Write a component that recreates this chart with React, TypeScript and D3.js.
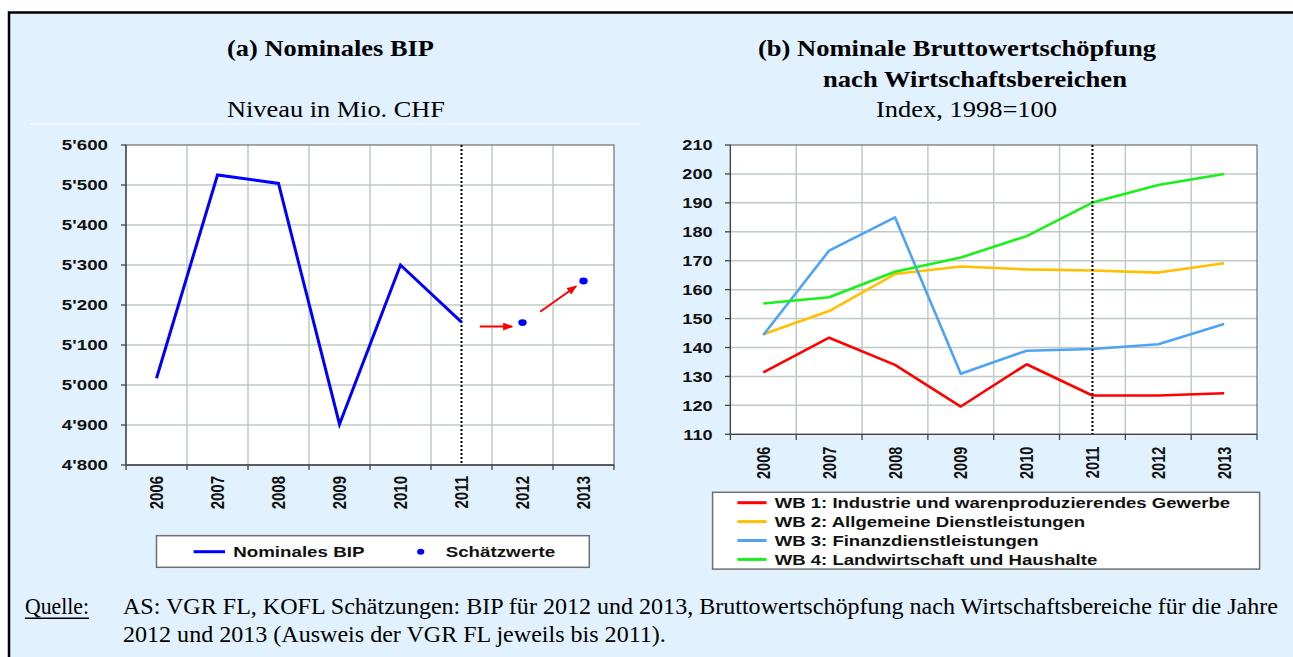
import React, { useMemo } from 'react';
import * as d3 from 'd3';

// ---------- data ----------
const years = ['2006', '2007', '2008', '2009', '2010', '2011', '2012', '2013'];
const bipYears = ['2006', '2007', '2008', '2009', '2010', '2011'];
const bipValues = [5017, 5525, 5504, 4902, 5300, 5157];
const estYears = ['2012', '2013'];
const estValues = [5156, 5260];
const bipTicks = [4800, 4900, 5000, 5100, 5200, 5300, 5400, 5500, 5600];
const bipTickLabels = ["4'800", "4'900", "5'000", "5'100", "5'200", "5'300", "5'400", "5'500", "5'600"];
const splitYear = '2011';

// annotation arrows (year, offset in band widths, value)
const arrowFromYear = ['2011', '2012'];
const arrowFromOffset = [0.3, 0.29];
const arrowFromValue = [5146, 5183];
const arrowToYear = ['2012', '2013'];
const arrowToOffset = [-0.17, -0.12];
const arrowToValue = [5146, 5247];

const wbNames = [
  'WB 1: Industrie und warenproduzierendes Gewerbe',
  'WB 2: Allgemeine Dienstleistungen',
  'WB 3: Finanzdienstleistungen',
  'WB 4: Landwirtschaft und Haushalte',
];
const wbColors = ['#FF0000', '#FFC000', '#4DA3F5', '#19F019'];
const wb1 = [131.4, 143.4, 134.0, 119.6, 134.2, 123.4, 123.4, 124.2];
const wb2 = [144.6, 152.6, 165.4, 168.0, 167.0, 166.6, 165.9, 169.1];
const wb3 = [144.3, 173.5, 185.0, 130.9, 138.9, 139.5, 141.1, 148.1];
const wb4 = [155.2, 157.4, 166.2, 171.1, 178.5, 190.1, 196.2, 200.0];
const wbSeries = [wb1, wb2, wb3, wb4];
const indexTicks = [110, 120, 130, 140, 150, 160, 170, 180, 190, 200, 210];

const titleA = '(a) Nominales BIP';
const subA = 'Niveau in Mio. CHF';
const titleB1 = '(b) Nominale Bruttowertschöpfung';
const titleB2 = 'nach Wirtschaftsbereichen';
const subB = 'Index, 1998=100';
const legendA = ['Nominales BIP', 'Schätzwerte'];
const sourceLabel = 'Quelle:';
const source1 = 'AS: VGR FL, KOFL Schätzungen: BIP für 2012 und 2013, Bruttowertschöpfung nach Wirtschaftsbereiche für die Jahre';
const source2 = '2012 und 2013 (Ausweis der VGR FL jeweils bis 2011).';

// ---------- styles ----------
const SANS = "'Liberation Sans', Arial, sans-serif";
const SERIF = "'Liberation Serif', 'Times New Roman', serif";
const BG = '#E1F1FD';
const GRID = '#BFCAC4';
const FRAME = '#707070';

function measure(text: string, font: string): number {
  const c = document.createElement('canvas');
  const ctx = c.getContext('2d');
  if (!ctx) return text.length * 10;
  ctx.font = font;
  return ctx.measureText(text).width;
}

export default function App() {
  // left chart scales
  const xL = d3.scaleBand<string>().domain(years).range([126, 614]).padding(0);
  const yL = d3.scaleLinear().domain([4800, 5600]).range([465, 145]);
  const bwL = xL.bandwidth();
  const cL = (y: string) => (xL(y) as number) + bwL / 2;

  // right chart scales
  const xR = d3.scaleBand<string>().domain(years).range([730.4, 1257]).padding(0);
  const yR = d3.scaleLinear().domain([110, 210]).range([434.3, 145]);
  const bwR = xR.bandwidth();
  const cR = (y: string) => (xR(y) as number) + bwR / 2;

  const bipLine = d3
    .line<number>()
    .x((_, i) => cL(bipYears[i]))
    .y((d) => yL(d))(bipValues) as string;

  const wbLine = (vals: number[]) =>
    d3
      .line<number>()
      .x((_, i) => cR(years[i]))
      .y((d) => yR(d))(vals) as string;

  const srcFont = `23px ${SERIF}`;
  const src2Len = useMemo(() => {
    const m1 = measure(source1, srcFont);
    const m2 = measure(source2, srcFont);
    return (m2 * 1155) / m1;
  }, []);

  const sxL = 1.25;
  const sxR = 1.25;

  return (
    <div style={{ position: 'absolute', left: 0, top: 0 }}>
      <svg width={1293} height={657} style={{ display: 'block' }}>
        <defs>
          <marker id="redArrow" markerUnits="userSpaceOnUse" markerWidth={10} markerHeight={8} refX={9} refY={4} orient="auto">
            <path d="M0,0 L10,4 L0,8 Z" fill="#FF0000" />
          </marker>
        </defs>
        <rect x={0} y={0} width={1293} height={657} fill="#FFFFFF" />
        <rect x={9} y={12.5} width={1300} height={660} fill={BG} stroke="#000" strokeWidth={2.5} />
        <line x1={30} x2={640} y1={124} y2={124} stroke="#FFFFFF" strokeOpacity={0.7} strokeWidth={1.5} />

        {/* titles */}
        <text x={227} y={56} fontFamily={SERIF} fontWeight="bold" fontSize={23} textLength={207} lengthAdjust="spacingAndGlyphs">{titleA}</text>
        <text x={227} y={117} fontFamily={SERIF} fontSize={23} textLength={218} lengthAdjust="spacingAndGlyphs">{subA}</text>
        <text x={758} y={56} fontFamily={SERIF} fontWeight="bold" fontSize={23} textLength={398} lengthAdjust="spacingAndGlyphs">{titleB1}</text>
        <text x={823} y={86.5} fontFamily={SERIF} fontWeight="bold" fontSize={23} textLength={304} lengthAdjust="spacingAndGlyphs">{titleB2}</text>
        <text x={876} y={116.7} fontFamily={SERIF} fontSize={23} textLength={181} lengthAdjust="spacingAndGlyphs">{subB}</text>

        {/* ---------- left chart ---------- */}
        <rect x={126} y={145} width={488} height={320} fill="#FFFFFF" />
        {bipTicks.slice(1, -1).map((t) => (
          <line key={'hg' + t} x1={126} x2={614} y1={yL(t)} y2={yL(t)} stroke={GRID} strokeWidth={1.5} />
        ))}
        {years.slice(1).map((y) => (
          <line key={'vg' + y} x1={xL(y)} x2={xL(y)} y1={145} y2={465} stroke={GRID} strokeWidth={1.5} />
        ))}
        <rect x={126} y={145} width={488} height={320} fill="none" stroke={FRAME} strokeWidth={1.2} />
        <line x1={126} x2={126} y1={145} y2={465} stroke="#444" strokeWidth={1.3} />
        <line x1={126} x2={614} y1={465} y2={465} stroke="#444" strokeWidth={1.3} />
        {bipTicks.map((t, i) => (
          <g key={'yt' + t}>
            <line x1={121} x2={126} y1={yL(t)} y2={yL(t)} stroke="#444" strokeWidth={1.3} />
            <text
              transform={`translate(108,${yL(t)}) scale(${sxL},1)`}
              textAnchor="end"
              dy="0.36em"
              fontFamily={SANS}
              fontWeight="bold"
              fontSize={15}
              fill="#111"
            >
              {bipTickLabels[i]}
            </text>
          </g>
        ))}
        {years.map((y) => (
          <line key={'xt' + y} x1={xL(y)} x2={xL(y)} y1={465} y2={470} stroke="#444" strokeWidth={1.3} />
        ))}
        <line x1={614} x2={614} y1={465} y2={470} stroke="#444" strokeWidth={1.3} />
        {years.map((y) => (
          <text
            key={'xl' + y}
            transform={`translate(${cL(y)},476) scale(${sxL},1) rotate(-90)`}
            textAnchor="end"
            dy="0.36em"
            fontFamily={SANS}
            fontWeight="bold"
            fontSize={15}
            fill="#111"
          >
            {y}
          </text>
        ))}
        <line x1={cL(splitYear)} x2={cL(splitYear)} y1={145} y2={465} stroke="#000" strokeWidth={2} strokeDasharray="2,2" />
        <path d={bipLine} fill="none" stroke="#0000FF" strokeWidth={3} strokeLinejoin="miter" />
        {estYears.map((y, i) => (
          <ellipse key={'est' + y} cx={cL(y)} cy={yL(estValues[i])} rx={4.2} ry={3.4} fill="#0000FF" />
        ))}
        {arrowFromYear.map((fy, i) => (
          <line
            key={'arr' + i}
            x1={cL(fy) + arrowFromOffset[i] * bwL}
            y1={yL(arrowFromValue[i])}
            x2={cL(arrowToYear[i]) + arrowToOffset[i] * bwL}
            y2={yL(arrowToValue[i])}
            stroke="#FF0000"
            strokeWidth={2}
            markerEnd="url(#redArrow)"
          />
        ))}

        {/* left legend */}
        <rect x={156.5} y={535.7} width={432.8} height={31.6} fill="#FFFFFF" stroke={FRAME} strokeWidth={1.5} />
        <line x1={193.6} x2={225} y1={551.7} y2={551.7} stroke="#0000FF" strokeWidth={3} />
        <text transform={`translate(233.2,551.7) scale(${sxL},1)`} dy="0.36em" fontFamily={SANS} fontWeight="bold" fontSize={15} fill="#111">
          {legendA[0]}
        </text>
        <ellipse cx={420.7} cy={551.7} rx={3.6} ry={3} fill="#0000FF" />
        <text transform={`translate(445.7,551.7) scale(${sxL},1)`} dy="0.36em" fontFamily={SANS} fontWeight="bold" fontSize={15} fill="#111">
          {legendA[1]}
        </text>

        {/* ---------- right chart ---------- */}
        <rect x={730.4} y={145} width={526.6} height={289.3} fill="#FFFFFF" />
        {indexTicks.slice(1, -1).map((t) => (
          <line key={'rhg' + t} x1={730.4} x2={1257} y1={yR(t)} y2={yR(t)} stroke={GRID} strokeWidth={1.5} />
        ))}
        {years.slice(1).map((y) => (
          <line key={'rvg' + y} x1={xR(y)} x2={xR(y)} y1={145} y2={434.3} stroke={GRID} strokeWidth={1.5} />
        ))}
        <rect x={730.4} y={145} width={526.6} height={289.3} fill="none" stroke={FRAME} strokeWidth={1.2} />
        <line x1={730.4} x2={730.4} y1={145} y2={434.3} stroke="#444" strokeWidth={1.3} />
        <line x1={730.4} x2={1257} y1={434.3} y2={434.3} stroke="#444" strokeWidth={1.3} />
        {indexTicks.map((t) => (
          <g key={'ryt' + t}>
            <line x1={725} x2={730.4} y1={yR(t)} y2={yR(t)} stroke="#444" strokeWidth={1.3} />
            <text
              transform={`translate(712.6,${yR(t)}) scale(${sxR},1)`}
              textAnchor="end"
              dy="0.36em"
              fontFamily={SANS}
              fontWeight="bold"
              fontSize={14.5}
              fill="#111"
            >
              {t}
            </text>
          </g>
        ))}
        {years.map((y) => (
          <line key={'rxt' + y} x1={xR(y)} x2={xR(y)} y1={434.3} y2={440} stroke="#444" strokeWidth={1.3} />
        ))}
        <line x1={1257} x2={1257} y1={434.3} y2={440} stroke="#444" strokeWidth={1.3} />
        {years.map((y) => (
          <text
            key={'rxl' + y}
            transform={`translate(${cR(y)},446.7) scale(${sxR},1) rotate(-90)`}
            textAnchor="end"
            dy="0.36em"
            fontFamily={SANS}
            fontWeight="bold"
            fontSize={14.5}
            fill="#111"
          >
            {y}
          </text>
        ))}
        {wbSeries.map((vals, i) => (
          <path key={'wb' + i} d={wbLine(vals)} fill="none" stroke={wbColors[i]} strokeWidth={2.6} strokeLinejoin="round" />
        ))}
        <line x1={cR(splitYear)} x2={cR(splitYear)} y1={145} y2={434.3} stroke="#000" strokeWidth={2} strokeDasharray="2,2" />

        {/* right legend */}
        <rect x={712.6} y={492.3} width={547} height={76.8} fill="#FFFFFF" stroke={FRAME} strokeWidth={1.5} />
        {wbNames.map((n, i) => {
          const cy = 502.7 + i * 18.9;
          return (
            <g key={'leg' + i}>
              <line x1={737.4} x2={766.5} y1={cy} y2={cy} stroke={wbColors[i]} strokeWidth={3} />
              <text transform={`translate(774.7,${cy}) scale(1.28,1)`} dy="0.36em" fontFamily={SANS} fontWeight="bold" fontSize={14.5} fill="#111">
                {n}
              </text>
            </g>
          );
        })}

        {/* source */}
        <text x={25} y={613.5} fontFamily={SERIF} fontSize={23} textLength={64} lengthAdjust="spacingAndGlyphs">{sourceLabel}</text>
        <line x1={25} x2={89} y1={618.3} y2={618.3} stroke="#000" strokeWidth={1.5} />
        <text x={123} y={613.5} fontFamily={SERIF} fontSize={23} textLength={1155} lengthAdjust="spacingAndGlyphs">{source1}</text>
        <text x={123} y={641.5} fontFamily={SERIF} fontSize={23} textLength={src2Len} lengthAdjust="spacingAndGlyphs">{source2}</text>
      </svg>
    </div>
  );
}
